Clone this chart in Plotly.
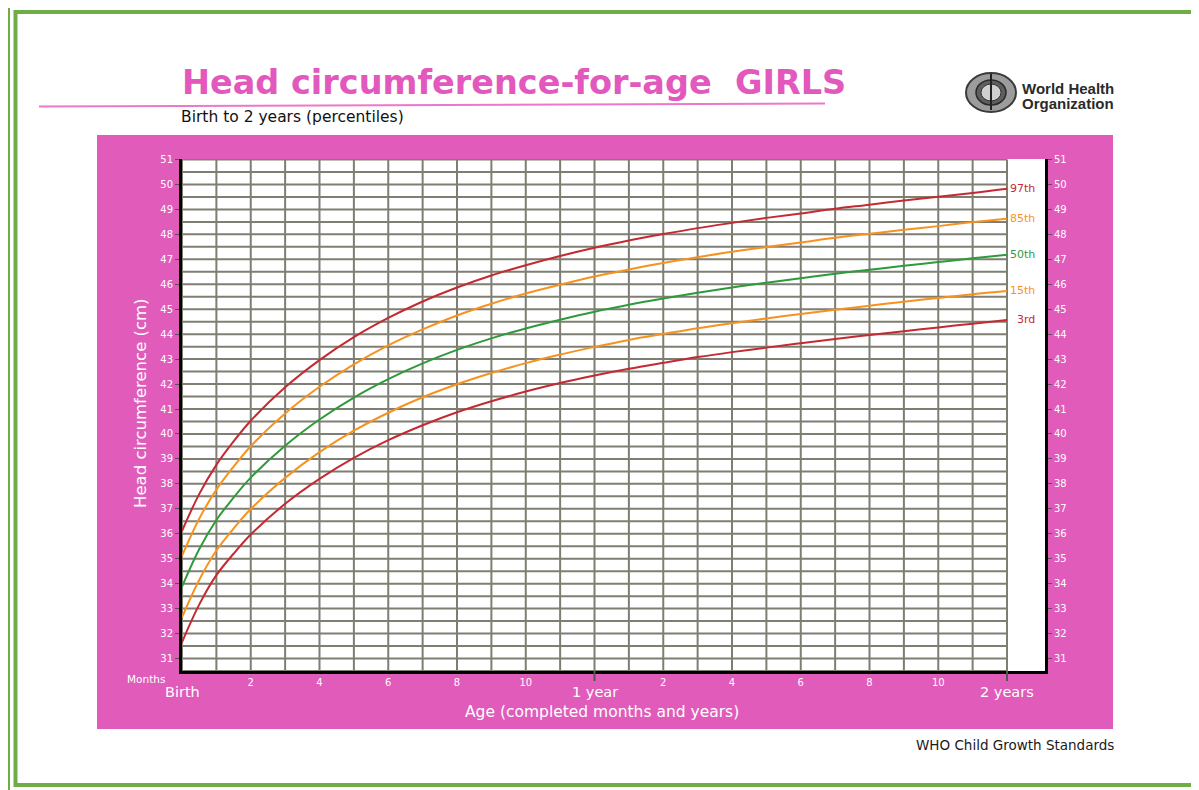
import plotly.graph_objects as go

# ---------------- data ----------------
months = [0, 0.5, 1, 1.5, 2, 3, 4, 5, 6, 7, 8, 9, 10, 11, 12,
          13, 14, 15, 16, 17, 18, 19, 20, 21, 22, 23, 24]
p97 = [36.11, 37.59, 38.76, 39.70, 40.53, 41.87, 42.96, 43.88, 44.65, 45.31, 45.87, 46.35, 46.76,
       47.13, 47.46, 47.75, 48.01, 48.25, 48.46, 48.66, 48.84, 49.03, 49.19, 49.36, 49.51, 49.66, 49.83]
p85 = [35.11, 36.60, 37.77, 38.69, 39.51, 40.82, 41.89, 42.79, 43.55, 44.19, 44.75, 45.22, 45.63,
       45.98, 46.31, 46.59, 46.85, 47.08, 47.30, 47.49, 47.67, 47.86, 48.02, 48.18, 48.33, 48.49, 48.63]
p50 = [33.88, 35.38, 36.55, 37.45, 38.25, 39.53, 40.58, 41.46, 42.20, 42.83, 43.37, 43.83, 44.23,
       44.58, 44.90, 45.18, 45.43, 45.66, 45.87, 46.06, 46.24, 46.42, 46.58, 46.74, 46.89, 47.04, 47.18]
p15 = [32.65, 34.15, 35.33, 36.21, 36.99, 38.24, 39.27, 40.13, 40.85, 41.47, 41.99, 42.44, 42.84,
       43.18, 43.49, 43.77, 44.01, 44.24, 44.44, 44.63, 44.81, 44.98, 45.14, 45.30, 45.45, 45.60, 45.73]
p3 = [31.65, 33.16, 34.34, 35.20, 35.97, 37.20, 38.20, 39.04, 39.75, 40.35, 40.87, 41.31, 41.70,
      42.04, 42.34, 42.61, 42.85, 43.08, 43.28, 43.46, 43.64, 43.81, 43.97, 44.12, 44.27, 44.42, 44.57]
series_names = ["97th", "85th", "50th", "15th", "3rd"]
series_values = [p97, p85, p50, p15, p3]
series_colors = ["#C42A32", "#F7921E", "#2F9A3C", "#F7921E", "#C42A32"]

month_tick_vals = [2, 4, 6, 8, 10, 14, 16, 18, 20, 22]
month_tick_text = ["2", "4", "6", "8", "10", "2", "4", "6", "8", "10"]
year_tick_vals = [0, 12, 24]
year_tick_text = ["Birth", "1 year", "2 years"]
cm_ticks = list(range(31, 52))

# ---------------- geometry (page pixels -> paper) ----------------
OFF = 8                      # default page body margin
W, H = 1199 - OFF, 790 - OFF
L, R, T, B = 182, 1045, 159, 671   # plot area in page pixels


def xp(px):
    return (px - L) / (R - L)


def yp(py):
    return (B - py) / (B - T)


PINK = "#E05BBA"
GREEN = "#70AD47"
GRID = "#7E7E72"
FONT = "DejaVu Sans, Verdana, sans-serif"
ARIAL = "Liberation Sans, Arial, sans-serif"

fig = go.Figure()

# grid (restricted to 0..24 months)
gx, gy = [], []
for m in range(25):
    gx += [m, m, None]
    gy += [30.5, 51, None]
for k in range(42):
    v = 30.5 + 0.5 * k
    gx += [0, 24, None]
    gy += [v, v, None]
fig.add_trace(go.Scatter(x=gx, y=gy, mode="lines", line=dict(color=GRID, width=2),
                         hoverinfo="skip", showlegend=False))

# percentile curves
for name, vals, col in zip(series_names, series_values, series_colors):
    fig.add_trace(go.Scatter(x=months, y=vals, mode="lines", name=name,
                             line=dict(color=col, width=2, shape="spline", smoothing=1.0),
                             showlegend=False))

# invisible trace for the right axis
fig.add_trace(go.Scatter(x=[0], y=[40], yaxis="y2", mode="markers",
                         marker=dict(opacity=0), showlegend=False, hoverinfo="skip"))

shapes = []
shapes.append(dict(type="rect", xref="paper", yref="paper", x0=xp(97), x1=xp(1113),
                   y0=yp(729), y1=yp(135), fillcolor=PINK, line=dict(width=0), layer="below"))
shapes.append(dict(type="rect", xref="paper", yref="paper", x0=0, x1=1, y0=0, y1=1,
                   fillcolor="white", line=dict(width=0), layer="below"))
# green frames
shapes.append(dict(type="rect", xref="paper", yref="paper", x0=xp(8), x1=xp(1230),
                   y0=yp(830), y1=yp(5), line=dict(color=GREEN, width=4)))
shapes.append(dict(type="rect", xref="paper", yref="paper", x0=xp(15.5), x1=xp(1196),
                   y0=yp(785), y1=yp(12), line=dict(color=GREEN, width=4)))
# title underline
shapes.append(dict(type="line", xref="paper", yref="paper", x0=xp(39), x1=xp(825),
                   y0=yp(106.5), y1=yp(103.5), line=dict(color="#EC78CC", width=2)))
# year tick marks
for v in [12, 24]:
    shapes.append(dict(type="line", xref="x", yref="paper", x0=v, x1=v,
                       y0=0, y1=yp(681), line=dict(color="#555555", width=2)))
# WHO emblem approximation
shapes.append(dict(type="circle", xref="paper", yref="paper", x0=xp(966), x1=xp(1016),
                   y0=yp(112), y1=yp(73), fillcolor="#9C9C9C", line=dict(color="#3A3A3A", width=2)))
shapes.append(dict(type="circle", xref="paper", yref="paper", x0=xp(976), x1=xp(1006),
                   y0=yp(105), y1=yp(80), fillcolor="#5E5E5E", line=dict(color="#2A2A2A", width=1.5)))
shapes.append(dict(type="circle", xref="paper", yref="paper", x0=xp(981), x1=xp(1001),
                   y0=yp(101), y1=yp(84), fillcolor="#CFCFCF", line=dict(color="#333333", width=1)))
shapes.append(dict(type="line", xref="paper", yref="paper", x0=xp(991), x1=xp(991),
                   y0=yp(110), y1=yp(74), line=dict(color="#222222", width=2)))

ann = []


def text(px, py, s, size, color="white", xanchor="center", bold=False, family=FONT):
    ann.append(dict(xref="paper", yref="paper", x=xp(px), y=yp(py), text=s,
                    showarrow=False, xanchor=xanchor, yanchor="middle",
                    font=dict(family=family, size=size, color=color,
                              weight="bold" if bold else "normal")))


text(180, 82.5, "Head circumference-for-age&nbsp;&nbsp;GIRLS", 33.5, color="#E258BC",
     xanchor="left", bold=True)
text(179, 116.5, "Birth to 2 years (percentiles)", 15.5, color="#111111", xanchor="left")
text(1020, 88, "World Health", 15, color="#2A2A2A", xanchor="left", bold=True, family=ARIAL)
text(1020, 103, "Organization", 15, color="#2A2A2A", xanchor="left", bold=True, family=ARIAL)
text(1116, 745, "WHO Child Growth Standards", 13.5, color="#1A1A1A", xanchor="right")
text(146, 679, "Months", 10.5)
text(602, 712, "Age (completed months and years)", 15.5)
ann.append(dict(xref="paper", yref="paper", x=xp(140), y=yp(403),
                text="Head circumference (cm)", textangle=-90, showarrow=False,
                xanchor="center", yanchor="middle",
                font=dict(family=FONT, size=16.5, color="white")))
for v, s in zip(year_tick_vals, year_tick_text):
    ann.append(dict(xref="x", yref="paper", x=v, y=yp(691.5), text=s, showarrow=False,
                    xanchor="center", yanchor="middle",
                    font=dict(family=FONT, size=14.5, color="white")))
for name, vals, col in zip(series_names, series_values, series_colors):
    ann.append(dict(xref="x", yref="y", x=24.87, y=vals[-1], text=name, showarrow=False,
                    xanchor="right", yanchor="middle",
                    font=dict(family=FONT, size=11, color=col)))

tickfont = dict(family=FONT, size=10, color="white")
fig.update_layout(
    width=W, height=H,
    margin=dict(l=L - OFF, r=W - (R - OFF), t=T - OFF, b=H - (B - OFF), pad=0),
    paper_bgcolor="white", plot_bgcolor="white",
    showlegend=False,
    shapes=shapes, annotations=ann,
    xaxis=dict(range=[0, 25.105], tickvals=month_tick_vals, ticktext=month_tick_text,
               ticks="", showgrid=False, zeroline=False, showline=True,
               linecolor="black", linewidth=3, tickfont=tickfont),
    yaxis=dict(range=[30.5, 51.02], tickvals=cm_ticks, ticks="outside", ticklen=4,
               tickcolor="#555555", tickwidth=1, showgrid=False, zeroline=False,
               showline=True, linecolor="black", linewidth=3, tickfont=tickfont),
    yaxis2=dict(range=[30.5, 51.02], tickvals=cm_ticks, ticks="outside", ticklen=4,
                tickcolor="#555555", tickwidth=1, showgrid=False, zeroline=False,
                showline=True, linecolor="black", linewidth=3, overlaying="y", side="right",
                tickfont=tickfont),
)

fig.write_html("out.html")
